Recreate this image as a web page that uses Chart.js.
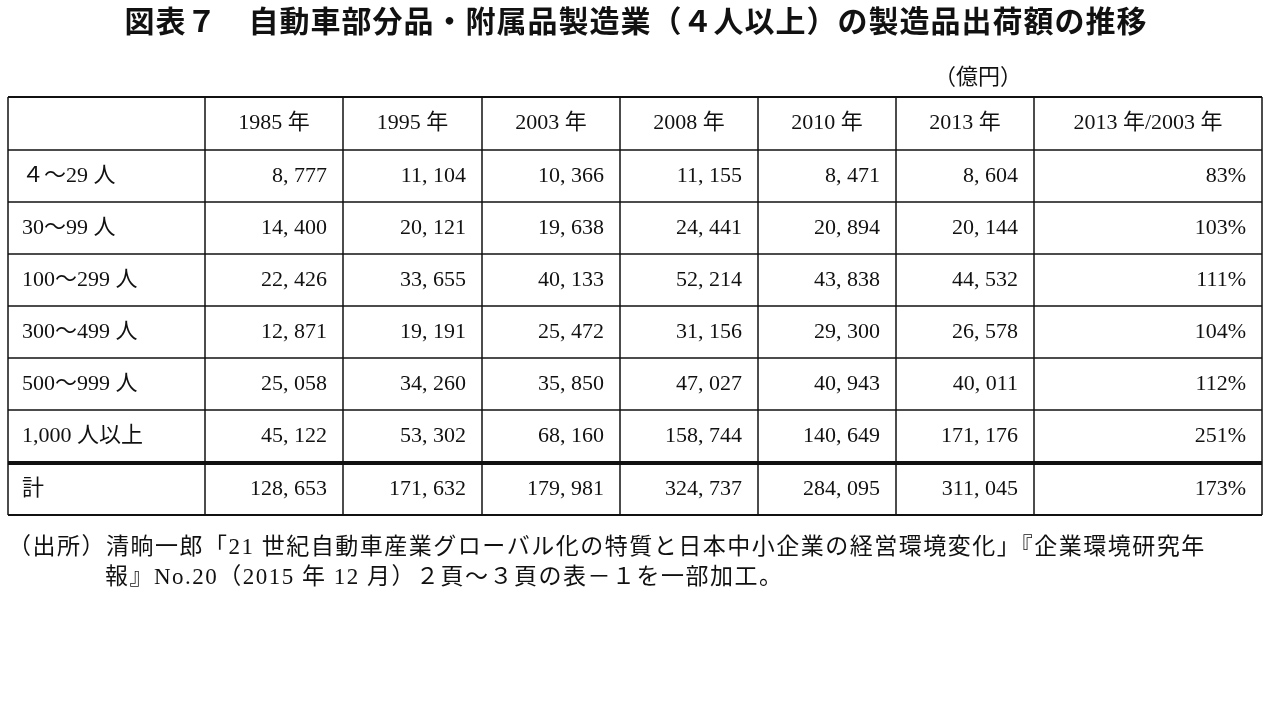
<!DOCTYPE html>
<html>
<head>
<meta charset="utf-8">
<script src="https://cdn.jsdelivr.net/npm/chart.js@4"></script>
<style>
  html, body { margin: 0; padding: 0; background: #fff; }
  #wrap { width: 1280px; height: 720px; }
</style>
</head>
<body>
<div id="wrap"><canvas id="tbl"></canvas></div>
<script>
const title = "図表７　自動車部分品・附属品製造業（４人以上）の製造品出荷額の推移";
const unit = "（億円）";
const headers = ["", "1985 年", "1995 年", "2003 年", "2008 年", "2010 年", "2013 年", "2013 年/2003 年"];
const categories = ["４～29 人", "30～99 人", "100～299 人", "300～499 人", "500～999 人", "1,000 人以上", "計"];
const v1985 = [8777, 14400, 22426, 12871, 25058, 45122, 128653];
const v1995 = [11104, 20121, 33655, 19191, 34260, 53302, 171632];
const v2003 = [10366, 19638, 40133, 25472, 35850, 68160, 179981];
const v2008 = [11155, 24441, 52214, 31156, 47027, 158744, 324737];
const v2010 = [8471, 20894, 43838, 29300, 40943, 140649, 284095];
const v2013 = [8604, 20144, 44532, 26578, 40011, 171176, 311045];
const ratio = ["83%", "103%", "111%", "104%", "112%", "251%", "173%"];
const notes = [
  "（出所）清晌一郎「21 世紀自動車産業グローバル化の特質と日本中小企業の経営環境変化」『企業環境研究年",
  "報』No.20（2015 年 12 月）２頁～３頁の表－１を一部加工。"
];

// layout (page coordinates, mapped through the chart's scales)
const colX = [8, 205, 343, 482, 620, 758, 896, 1034, 1262];
const rowY = [97, 150, 202, 254, 306, 358, 410, 463, 515];
const FONT = '"Liberation Serif", "Noto Sans CJK JP", serif';

function fmt(n) { return n.toLocaleString("en-US").replace(/,/g, ", "); }

const tablePlugin = {
  id: "tablePlugin",
  afterDraw(chart) {
    const ctx = chart.ctx, sx = chart.scales.x, sy = chart.scales.y;
    const X = v => sx.getPixelForValue(v), Y = v => sy.getPixelForValue(v);
    ctx.save();
    ctx.fillStyle = "#111";
    ctx.textBaseline = "middle";
    ctx.font = "bold 30px " + FONT;
    ctx.textAlign = "center";
    ctx.letterSpacing = "1px";
    ctx.fillText(title, X(636), Y(24));
    ctx.letterSpacing = "0px";
    ctx.font = "22px " + FONT;
    ctx.textAlign = "right";
    ctx.fillText(unit, X(1022), Y(78));

    // grid
    ctx.strokeStyle = "#111";
    rowY.forEach((y, i) => {
      ctx.lineWidth = i === 7 ? 4 : (i === 0 || i === 8 ? 2 : 1.5);
      ctx.beginPath(); ctx.moveTo(X(colX[0]), Y(y)); ctx.lineTo(X(colX[8]), Y(y)); ctx.stroke();
    });
    ctx.lineWidth = 1.5;
    colX.forEach(x => {
      ctx.beginPath(); ctx.moveTo(X(x), Y(rowY[0])); ctx.lineTo(X(x), Y(rowY[8])); ctx.stroke();
    });

    // header
    ctx.textAlign = "center";
    headers.forEach((h, c) => {
      ctx.fillText(h, X((colX[c] + colX[c + 1]) / 2), Y((rowY[0] + rowY[1]) / 2));
    });

    const series = [v1985, v1995, v2003, v2008, v2010, v2013];
    categories.forEach((cat, r) => {
      const cy = Y((rowY[r + 1] + rowY[r + 2]) / 2);
      ctx.textAlign = "left";
      ctx.fillText(cat, X(colX[0] + 14), cy);
      ctx.textAlign = "right";
      series.forEach((s, c) => ctx.fillText(fmt(s[r]), X(colX[c + 2] - 16), cy));
      ctx.fillText(ratio[r], X(colX[8] - 16), cy);
    });

    ctx.textAlign = "left";
    ctx.font = "23px " + FONT;
    ctx.letterSpacing = "1.5px";
    ctx.fillText(notes[0], X(8), Y(548));
    ctx.fillText(notes[1], X(105), Y(578));
    ctx.restore();
  }
};

new Chart(document.getElementById("tbl"), {
  type: "scatter",
  data: { datasets: [{ data: [], pointRadius: 0 }] },
  options: {
    responsive: true,
    maintainAspectRatio: false,
    animation: false,
    layout: { padding: 0 },
    plugins: { legend: { display: false }, tooltip: { enabled: false } },
    scales: {
      x: { type: "linear", min: 0, max: 1280, display: false },
      y: { type: "linear", min: 0, max: 720, reverse: true, display: false }
    }
  },
  plugins: [tablePlugin]
});
</script>
</body>
</html>
